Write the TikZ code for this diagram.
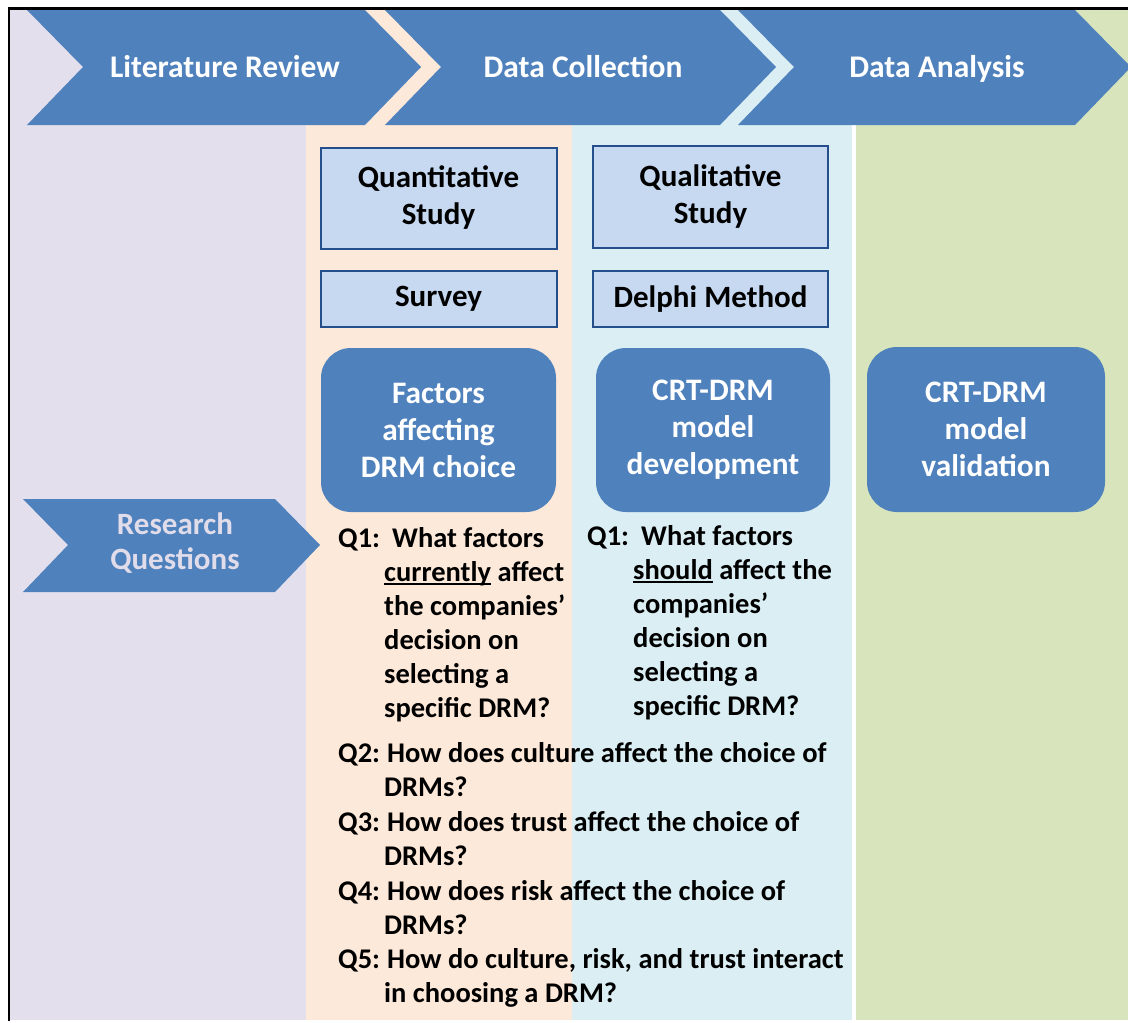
\documentclass[tikz,border=0pt]{standalone}
\usepackage{fontspec}
\setmainfont{Carlito}
\definecolor{chev}{HTML}{4F81BD}
\definecolor{lav}{HTML}{E4DFEC}
\definecolor{peach}{HTML}{FDE9D9}
\definecolor{lblue}{HTML}{DAEEF3}
\definecolor{lgreen}{HTML}{D7E4BC}
\definecolor{boxfill}{HTML}{C6D9F1}
\definecolor{boxline}{HTML}{254F8C}
\definecolor{rqtext}{HTML}{E0DCEA}
\newcommand\myul[1]{\setbox0\hbox{#1}\rlap{\rule[-3.5pt]{\wd0}{1.6pt}}\box0\relax}
\tikzset{
  chevshape/.style={fill=chev},
  chevtext/.style={text=white, font=\bfseries\fontsize{31.5}{36}\selectfont, inner sep=0pt},
  studybox/.style={draw=boxline, line width=2pt, fill=boxfill, font=\bfseries\fontsize{31}{37}\selectfont, align=center, inner sep=0pt},
  roundbox/.style={fill=chev, rounded corners=30pt, text=white, font=\bfseries\fontsize{31.3}{37}\selectfont, align=center, inner sep=0pt},
  lbl/.style={anchor=base west, inner sep=0pt, font=\bfseries\fontsize{28.5}{34}\selectfont}
}
\begin{document}
\begin{tikzpicture}[x=1pt,y=-1pt]
\useasboundingbox (0,0) rectangle (1128,1023);
% background columns
\fill[lav] (10,10) rectangle (306,1020);
\fill[peach] (306,10) rectangle (572,1020);
\fill[lblue] (572,10) rectangle (852,1020);
\fill[white] (852,10) rectangle (856,1020);
\fill[lgreen] (856,10) rectangle (1128,1020);
% frame
\draw[line width=2.5pt] (9,1021) -- (9,8.5) -- (1128,8.5);
% top chevrons
\fill[chevshape] (27,10) -- (365,10) -- (421,67) -- (365,125) -- (27,125) -- (83,67) -- cycle;
\fill[chevshape] (385,10) -- (720,10) -- (776,67) -- (720,125) -- (385,125) -- (441,67) -- cycle;
\fill[chevshape] (738,10) -- (1075,10) -- (1131,67) -- (1075,125) -- (738,125) -- (794,67) -- cycle;
\node[chevtext, anchor=base] (litrev) at (225,77.5) {Literature Review};
\node[chevtext, anchor=base] (datacol) at (583,77.5) {Data Collection};
\node[chevtext, anchor=base] (dataana) at (937,77.5) {Data Analysis};
% research questions chevron
\fill[chevshape] (23,499) -- (275,499) -- (320,545) -- (275,592) -- (23,592) -- (68,545) -- cycle;
\node[chevtext, text=rqtext, align=center, font=\bfseries\fontsize{31}{35}\selectfont] (rq) at (175,543.5) {Research\\Questions};
% study boxes
\node[studybox, minimum width=236pt, minimum height=101pt] (quant) at (438.5,198) {Quantitative\\Study};
\node[studybox, minimum width=236pt, minimum height=56pt] (survey) at (438.5,299) {Survey};
\node[studybox, minimum width=235pt, minimum height=102pt] (qual) at (710.5,197) {Qualitative\\Study};
\node[studybox, minimum width=235pt, minimum height=56pt] (delphi) at (710.5,299) {Delphi Method};
% rounded boxes
\node[roundbox, minimum width=235pt, minimum height=164pt] (factors) at (438.5,430) {Factors\\affecting\\DRM choice};
\node[roundbox, minimum width=234pt, minimum height=164pt] (develop) at (713,430) {CRT-DRM\\model\\development};
\node[roundbox, minimum width=238pt, minimum height=165pt] (valid) at (986,429.5) {CRT-DRM\\model\\validation};
% Q1 left
\node[lbl] (la0) at (338,547) {Q1:};
\node[lbl] (la1) at (392,547) {What factors};
\node[lbl] (la2) at (384,581) {\myul{currently} affect};
\node[lbl] (la3) at (384,615) {the companies’};
\node[lbl] (la4) at (384,649) {decision on};
\node[lbl] (la5) at (384,683) {selecting a};
\node[lbl] (la6) at (384,717) {specific DRM?};
% Q1 right
\node[lbl] (ra0) at (587,545) {Q1:};
\node[lbl] (ra1) at (641,545) {What factors};
\node[lbl] (ra2) at (633,579) {\myul{should} affect the};
\node[lbl] (ra3) at (633,613) {companies’};
\node[lbl] (ra4) at (633,647) {decision on};
\node[lbl] (ra5) at (633,681) {selecting a};
\node[lbl] (ra6) at (633,715) {specific DRM?};
% Q2-Q5
\node[lbl] (q2a) at (338,762) {Q2:};
\node[lbl] (q2b) at (387,762) {How does culture affect the choice of};
\node[lbl] (q2c) at (384,796) {DRMs?};
\node[lbl] (q3a) at (338,831) {Q3:};
\node[lbl] (q3b) at (387,831) {How does trust affect the choice of};
\node[lbl] (q3c) at (384,865) {DRMs?};
\node[lbl] (q4a) at (338,900) {Q4:};
\node[lbl] (q4b) at (387,900) {How does risk affect the choice of};
\node[lbl] (q4c) at (384,934) {DRMs?};
\node[lbl] (q5a) at (338,968) {Q5:};
\node[lbl] (q5b) at (387,968) {How do culture, risk, and trust interact};
\node[lbl] (q5c) at (384,1002) {in choosing a DRM?};
\end{tikzpicture}
\end{document}
